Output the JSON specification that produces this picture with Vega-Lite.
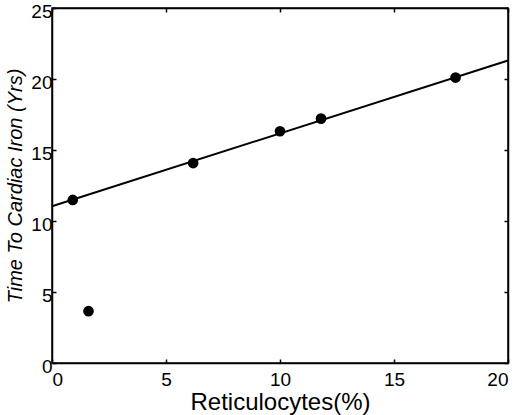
{
  "$schema": "https://vega.github.io/schema/vega-lite/v6.json",
  "description": "Time to cardiac iron vs reticulocytes, with linear fit.",
  "width": 456,
  "height": 355,
  "autosize": "none",
  "padding": {"left": 52, "top": 8, "right": 12, "bottom": 52},
  "datasets": {
    "points": [
      {"retic": 0.91, "years": 11.48},
      {"retic": 1.6, "years": 3.65},
      {"retic": 6.19, "years": 14.08},
      {"retic": 10.0, "years": 16.32},
      {"retic": 11.8, "years": 17.21},
      {"retic": 17.7, "years": 20.1}
    ],
    "fit": [
      {"retic": 0, "years": 11.04},
      {"retic": 20, "years": 21.3}
    ]
  },
  "layer": [
    {
      "data": {"name": "fit"},
      "mark": {"type": "line", "color": "black", "strokeWidth": 2},
      "encoding": {
        "x": {
          "field": "retic", "type": "quantitative",
          "scale": {"domain": [0, 20], "nice": false},
          "axis": {"orient": "bottom", "values": [0, 5, 10, 15, 20], "labelPadding": 11, "title": "Reticulocytes(%)", "titleFontSize": 24, "titlePadding": 1}
        },
        "y": {
          "field": "years", "type": "quantitative",
          "scale": {"domain": [0, 25], "nice": false},
          "axis": {"orient": "left", "values": [0, 5, 10, 15, 20, 25], "labelPadding": 4, "labelOffset": 3, "title": "Time To Cardiac Iron (Yrs)", "titleFontSize": 20, "titleFontStyle": "italic", "titlePadding": 5}
        }
      }
    },
    {
      "data": {"name": "points"},
      "mark": {"type": "point", "filled": true, "color": "black", "opacity": 1, "size": 115},
      "encoding": {
        "x": {
          "field": "retic", "type": "quantitative",
          "axis": {"orient": "top", "values": [0, 5, 10, 15, 20], "labels": false, "title": null}
        },
        "y": {
          "field": "years", "type": "quantitative",
          "axis": {"orient": "right", "values": [0, 5, 10, 15, 20, 25], "labels": false, "title": null}
        }
      }
    }
  ],
  "resolve": {"axis": {"x": "independent", "y": "independent"}},
  "config": {
    "font": "Liberation Sans",
    "view": {"stroke": "black", "strokeWidth": 1.5},
    "axis": {
      "grid": false,
      "domainColor": "black",
      "domainWidth": 1.5,
      "tickColor": "black",
      "tickWidth": 1.5,
      "tickSize": -4,
      "labelFont": "Liberation Sans",
      "labelFontSize": 19,
      "labelColor": "black",
      "labelPadding": 6,
      "titleFont": "Liberation Sans",
      "titleFontWeight": "normal",
      "titleColor": "black"
    }
  }
}
